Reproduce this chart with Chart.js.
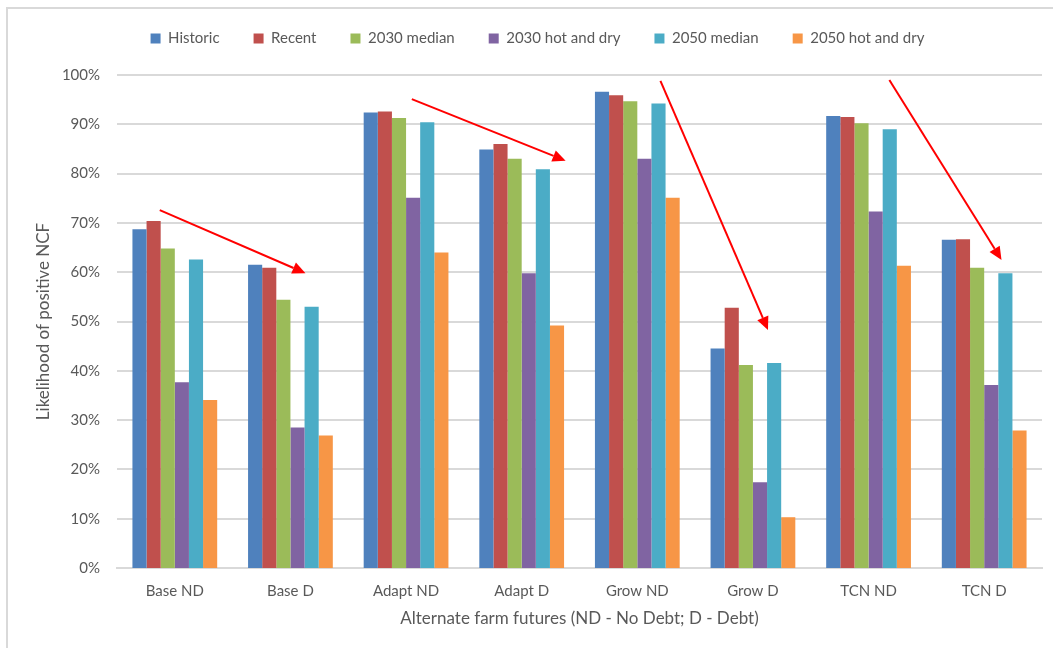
<!DOCTYPE html>
<html>
<head>
<meta charset="utf-8">
<script src="https://cdn.jsdelivr.net/npm/chart.js@4/dist/chart.umd.min.js"></script>
<style>
  html, body { margin: 0; padding: 0; background: #ffffff; }
  #wrap { position: relative; width: 1053px; height: 648px; }
</style>
</head>
<body>
<div id="wrap"><canvas id="c" width="1053" height="648"></canvas></div>
<script>
// Farm futures and the likelihood of a positive net cash flow (%)
const categories = ['Base ND', 'Base D', 'Adapt ND', 'Adapt D', 'Grow ND', 'Grow D', 'TCN ND', 'TCN D'];

const historic      = [68.7, 61.5, 92.4, 84.9, 96.6, 44.5, 91.7, 66.6];
const recent        = [70.4, 60.9, 92.6, 86.0, 95.9, 52.8, 91.5, 66.7];
const median2030    = [64.8, 54.4, 91.3, 83.0, 94.7, 41.2, 90.2, 60.9];
const hotDry2030    = [37.7, 28.5, 75.1, 59.8, 83.0, 17.4, 72.3, 37.1];
const median2050    = [62.6, 53.0, 90.4, 80.9, 94.2, 41.6, 89.0, 59.8];
const hotDry2050    = [34.1, 26.9, 64.0, 49.2, 75.1, 10.3, 61.3, 27.9];

const yTicks = [0, 10, 20, 30, 40, 50, 60, 70, 80, 90, 100];

// Trend arrows: [xStart, yStart, xEnd, yEnd] in category-index / percent units
const trendArrows = [
  [-0.13, 72.6, 1.13, 59.8],
  [ 2.05, 95.1, 3.38, 82.6],
  [ 4.20, 98.8, 5.13, 48.3],
  [ 6.18, 99.0, 7.15, 62.5]
];

const seriesNames  = ['Historic', 'Recent', '2030 median', '2030 hot and dry', '2050 median', '2050 hot and dry'];
const seriesValues = [historic, recent, median2030, hotDry2030, median2050, hotDry2050];
const seriesColors = ['#4f81bd', '#c0504d', '#9bbb59', '#8064a2', '#4bacc6', '#f79646'];

const FONT = 'Lato, "Open Sans", sans-serif';
const TEXT = '#595959';
const GRID = '#d9d9d9';

// White background, outer frame and horizontal gridlines
const framePlugin = {
  id: 'frame',
  beforeDraw(chart) {
    const ctx = chart.ctx;
    ctx.save();
    ctx.fillStyle = '#ffffff';
    ctx.fillRect(0, 0, chart.width, chart.height);
    ctx.strokeStyle = GRID;
    ctx.lineWidth = 2;
    ctx.beginPath();
    ctx.moveTo(7, chart.height);
    ctx.lineTo(7, 8);
    ctx.lineTo(chart.width, 8);
    ctx.stroke();
    ctx.restore();
  },
  beforeDatasetsDraw(chart) {
    const ctx = chart.ctx, ys = chart.scales.y, ca = chart.chartArea;
    ctx.save();
    ctx.strokeStyle = GRID;
    ctx.lineWidth = 2;
    yTicks.forEach(v => {
      const y = Math.round(ys.getPixelForValue(v));
      ctx.beginPath();
      ctx.moveTo(ca.left, y);
      ctx.lineTo(ca.right, y);
      ctx.stroke();
    });
    ctx.restore();
  }
};

// Leave a fixed band for the legend above the plot area
const legendBand = {
  id: 'legendBand',
  beforeLayout(chart) {
    const lg = chart.legend;
    if (lg && !lg._bandSet) {
      const origFit = lg.fit;
      lg.fit = function () { origFit.call(this); this.height = 78; };
      lg._bandSet = true;
    }
  }
};

const arrowPlugin = {
  id: 'trendArrows',
  afterDatasetsDraw(chart) {
    const ctx = chart.ctx;
    const xs = chart.scales.x, ys = chart.scales.y;
    const step = xs.getPixelForValue(1) - xs.getPixelForValue(0);
    const x0 = xs.getPixelForValue(0);
    ctx.save();
    ctx.strokeStyle = '#ff0000';
    ctx.fillStyle = '#ff0000';
    ctx.lineWidth = 2;
    trendArrows.forEach(a => {
      const sx = x0 + a[0] * step, sy = ys.getPixelForValue(a[1]);
      const ex = x0 + a[2] * step, ey = ys.getPixelForValue(a[3]);
      const ang = Math.atan2(ey - sy, ex - sx);
      const head = 13, half = 6;
      const bx = ex - head * Math.cos(ang), by = ey - head * Math.sin(ang);
      ctx.beginPath();
      ctx.moveTo(sx, sy);
      ctx.lineTo(bx, by);
      ctx.stroke();
      ctx.beginPath();
      ctx.moveTo(ex, ey);
      ctx.lineTo(bx + half * Math.sin(ang), by - half * Math.cos(ang));
      ctx.lineTo(bx - half * Math.sin(ang), by + half * Math.cos(ang));
      ctx.closePath();
      ctx.fill();
    });
    ctx.restore();
  }
};

new Chart(document.getElementById('c'), {
  type: 'bar',
  data: {
    labels: categories,
    datasets: seriesNames.map((name, i) => ({
      label: name,
      data: seriesValues[i],
      backgroundColor: seriesColors[i],
      borderWidth: 0,
      categoryPercentage: 0.733,
      barPercentage: 1.0
    }))
  },
  options: {
    responsive: false,
    animation: false,
    devicePixelRatio: 1,
    layout: { padding: { top: -3, left: 33, right: 11, bottom: 19 } },
    plugins: {
      legend: {
        position: 'top',
        labels: {
          boxWidth: 10,
          boxHeight: 10,
          padding: 34,
          color: TEXT,
          font: { family: FONT, size: 15 }
        }
      },
      tooltip: { enabled: false }
    },
    scales: {
      x: {
        afterFit(scale) { scale.height = 61; },
        grid: { display: false, drawTicks: false },
        border: { display: true, color: GRID, width: 2 },
        ticks: { color: TEXT, font: { family: FONT, size: 15 }, padding: 14 },
        title: {
          display: true,
          text: 'Alternate farm futures (ND - No Debt; D - Debt)',
          color: TEXT,
          font: { family: FONT, size: 17 },
          padding: { top: 0, bottom: 0 }
        }
      },
      y: {
        min: 0,
        max: 100,
        afterFit(scale) { scale.width = 84; },
        afterBuildTicks(scale) { scale.ticks = yTicks.map(v => ({ value: v })); },
        grid: { display: false, drawTicks: false },
        border: { display: false },
        ticks: {
          color: TEXT,
          font: { family: FONT, size: 15 },
          padding: 17,
          callback: v => v + '%'
        },
        title: {
          display: true,
          text: 'Likelihood of positive NCF',
          color: TEXT,
          font: { family: FONT, size: 17 },
          padding: { top: 0, bottom: 0 }
        }
      }
    }
  },
  plugins: [framePlugin, legendBand, arrowPlugin]
});
</script>
</body>
</html>
